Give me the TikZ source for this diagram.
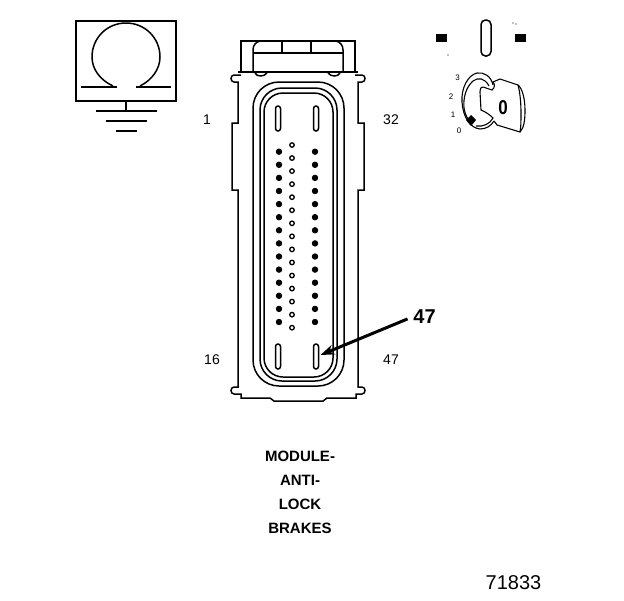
\documentclass[tikz,border=0pt]{standalone}
\usepackage{fontspec}
\setmainfont{Liberation Sans}
\usetikzlibrary{arrows.meta}
\tikzset{
	outline/.style={line width=1.5pt},
	thin outline/.style={line width=1.1pt},
	pinlabel/.style={font=\fontsize{14}{15}\selectfont,inner sep=0pt},
	keylabel/.style={font=\fontsize{8}{9}\selectfont,inner sep=0pt},
	caption/.style={font=\fontsize{15}{16}\selectfont\bfseries,inner sep=0pt},
	blade/.style={outline,rounded corners=2.5pt},
	hole/.style={circle,draw,line width=1.3pt,inner sep=0pt,minimum size=4.5pt},
	pin/.style={circle,draw,fill=black,line width=0.8pt,inner sep=0pt,minimum size=5.5pt}
}
\begin{document}
\begin{tikzpicture}[x=1pt,y=-1pt]
\useasboundingbox (0,0) rectangle (624,600);
% ground symbol
\draw[outline] (76,21) rectangle (176,101);
\draw[outline] (113,86) .. controls (100,80) and (92,69) .. (92,57)
	.. controls (92,38) and (107,23) .. (126,23)
	.. controls (145,23) and (160,38) .. (160,57)
	.. controls (160,69) and (152,80) .. (140,86);
\draw[line width=2.4pt] (81,87) -- (117,87) (136,87) -- (171,87);
\draw[outline] (126,101) -- (126,111);
\draw[outline] (96,111) -- (157,111);
\draw[outline] (106,121) -- (147,121);
\draw[outline] (116,131) -- (137,131);
% connector top
\draw[outline] (238,72) -- (241,72) -- (241,41) -- (355,41) -- (355,72) -- (358,72);
\draw[outline] (253,72) -- (253,50) .. controls (253,45) and (256,42) .. (260,41)
	(343,72) -- (343,50) .. controls (343,45) and (340,42) .. (336,41);
\draw[outline] (253,53) -- (343,53) (282,41) -- (282,53) (311,41) -- (311,53);
\draw[outline] (241,72) -- (355,72);
\draw[outline] (255,73) .. controls (257,77) and (264,77) .. (267,73)
	(328,73) .. controls (331,77) and (338,77) .. (340,73);
% body
\draw[outline] (241,75) -- (234,75) .. controls (230,75) and (230,82) .. (234,82) -- (238,82)
	-- (238,123) -- (232,123) -- (232,190) -- (238,190) -- (238,387) -- (234,387)
	.. controls (230,387) and (230,394) .. (234,394) -- (241,394) -- (241,398)
	-- (270,398) -- (274,401) -- (323,401) -- (327,398) -- (356,398) -- (356,394)
	-- (362,394) .. controls (366,394) and (366,387) .. (362,387) -- (358,387)
	-- (358,190) -- (364,190) -- (364,123) -- (358,123) -- (358,82) -- (362,82)
	.. controls (366,82) and (366,75) .. (362,75) -- (355,75);
% inner outlines
\draw[outline,rounded corners=26pt] (253,82) rectangle (344,386);
\draw[outline,rounded corners=22pt] (260,88) rectangle (337,381);
\draw[outline,rounded corners=19pt] (264,93) rectangle (333,377);
% contact blades
\draw[blade] (275.5,106) rectangle (280.5,131);
\draw[blade] (313.5,106) rectangle (318.5,131);
\draw[blade] (275.5,344) rectangle (280.5,369);
\draw[blade] (313.5,344) rectangle (318.5,369);
% contact holes
\foreach \n in {0,...,13} {
	\node[pin] (l\n) at (279,151.7+13.1*\n) {};
	\node[pin] (r\n) at (315,151.7+13.1*\n) {};
}
\foreach \n in {0,...,14}
	\node[hole] (m\n) at (292,145+13.05*\n) {};
% pin numbers
\node[pinlabel] (one) at (207,120) {1};
\node[pinlabel] (thirtytwo) at (391,120) {32};
\node[pinlabel] (sixteen) at (212,360) {16};
\node[pinlabel] (fortyseven) at (391,360) {47};
% callout
\node[font=\fontsize{20}{22}\selectfont\bfseries,inner sep=1pt] (callout) at (424.5,317) {47};
\coordinate (blade47) at (320.5,355);
\draw[line width=3pt,shorten <=5pt,-{Stealth[length=14pt,width=10pt]}] (callout.west) -- (blade47);
% caption
\node[caption] (module) at (300,456) {MODULE-};
\node[caption] (anti) at (300,480) {ANTI-};
\node[caption] (lock) at (300,504) {LOCK};
\node[caption] (brakes) at (300,528) {BRAKES};
\node[font=\fontsize{20}{22}\selectfont,inner sep=0pt] (figno) at (513.5,583) {71833};
% ignition switch
\fill (436,34) rectangle (447,42);
\fill (515,34) rectangle (526,42);
\draw[outline,rounded corners=4.5pt] (481,20) rectangle (491,56);
\fill (448,55) circle (0.6pt) (513,23) circle (0.6pt) (516,24) circle (0.6pt);
\node[keylabel] (pos3) at (457.5,78) {3};
\node[keylabel] (pos2) at (451,97) {2};
\node[keylabel] (pos1) at (453,115) {1};
\node[keylabel] (pos0) at (459,131) {0};
% key
\draw[thin outline] (493,85) .. controls (491,76) and (484,72) .. (477,73)
	.. controls (468,75) and (461,88) .. (462,102)
	.. controls (463,117) and (470,128) .. (480,129)
	.. controls (486,129) and (491,126) .. (494,121);
\draw[thin outline] (489,86) .. controls (485,78) and (478,77) .. (473,81)
	.. controls (466,87) and (463,98) .. (464,108)
	.. controls (465,115) and (468,120) .. (472,124);
\draw[thin outline] (476,126) .. controls (483,127) and (490,124) .. (493,118)
	.. controls (490,115) and (486,112) .. (481,110) -- (480,92)
	.. controls (480,87) and (482,86) .. (486,88) -- (492,90)
	.. controls (495,88) and (495,84) .. (493,82) -- (500,79) -- (518,85)
	.. controls (522,88) and (525,98) .. (525,110)
	.. controls (525,120) and (524,128) .. (520,132) -- (497,125) -- (494,121);
\draw[thin outline] (518,85) .. controls (520,92) and (521,103) .. (521,113) .. controls (521,121) and (521,127) .. (520,132);
\node[font=\fontsize{20}{22}\selectfont\bfseries,xscale=0.85,inner sep=0pt] (keyzero) at (503,108) {0};
\fill (471,115) -- (476,120) -- (471,126) -- (466,120) -- cycle;
\end{tikzpicture}
\end{document}
